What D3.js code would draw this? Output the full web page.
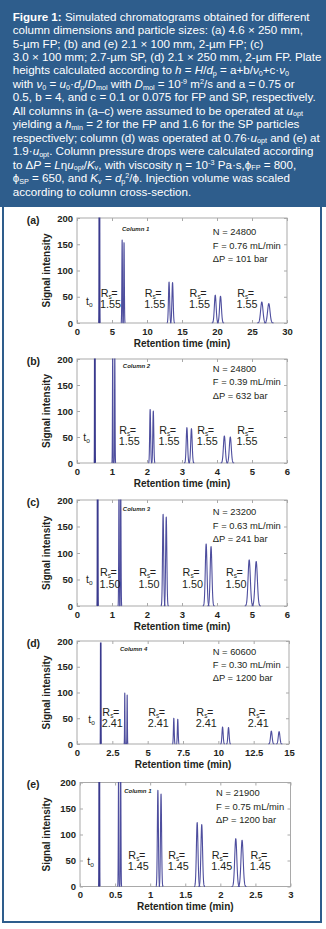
<!DOCTYPE html>
<html><head><meta charset="utf-8">
<script src="https://cdn.jsdelivr.net/npm/d3@7"></script>
<style>html,body{margin:0;padding:0;background:#fff;} svg{display:block;}</style>
</head><body>
<svg id="chart" width="326" height="929"></svg>
<script>
// ---------------- DATA ----------------
const panelLabels = ["(a)", "(b)", "(c)", "(d)", "(e)"];
const columnNames = ["Column 1", "Column 2", "Column 3", "Column 4", "Column 1"];
const plateCounts = ["24800", "24800", "23200", "60600", "21900"];
const flowRates = ["0.76", "0.39", "0.63", "0.30", "0.75"];
const pressureDrops = ["101", "632", "241", "1200", "1200"];
const resolutionLabels = ["1.55", "1.55", "1.50", "2.41", "1.45"];
const timeMax = [30, 6, 6, 15, 3];
const signalMax = 200;
const signalTicks = [0, 50, 100, 150, 200];
const timeTicks = [
  [0, 5, 10, 15, 20, 25, 30],
  [0, 1, 2, 3, 4, 5, 6],
  [0, 1, 2, 3, 4, 5, 6],
  [0, 2.5, 5, 7.5, 10, 12.5, 15],
  [0, 0.5, 1, 1.5, 2, 2.5, 3]
];
// dead-time (t0) marker peaks
const deadTimes = [3.2, 0.51, 0.59, 1.68, 0.275];
const deadHeights = [400, 400, 400, 197, 400];
const deadWidths = [0.02, 0.0033, 0.0039, 0.0068, 0.0019];
// analyte peaks: retention time (min), height, standard deviation (min)
const peakTimes = [
  [6.45, 6.72, 13.15, 13.65, 19.75, 20.5, 26.4, 27.4],
  [1.02, 1.08, 2.09, 2.18, 3.14, 3.27, 4.21, 4.38],
  [1.2, 1.25, 2.46, 2.55, 3.69, 3.83, 4.92, 5.12],
  [3.38, 3.55, 6.85, 7.13, 10.3, 10.72, 13.75, 14.3],
  [0.55, 0.58, 1.11, 1.155, 1.67, 1.735, 2.22, 2.31]
];
const peakHeights = [
  [158, 153, 78, 77, 53, 51, 40, 37],
  [215, 210, 103, 100, 68, 66, 52, 50],
  [230, 225, 173, 168, 117, 112, 87, 84],
  [99, 95, 50, 48, 33, 32, 25, 24],
  [230, 225, 185, 178, 123, 119, 92, 89]
];
const peakWidths = [
  [0.042, 0.043, 0.084, 0.087, 0.126, 0.13, 0.168, 0.174],
  [0.0065, 0.0069, 0.0133, 0.0139, 0.02, 0.0208, 0.0268, 0.0279],
  [0.0079, 0.0082, 0.0162, 0.0168, 0.0243, 0.0252, 0.0324, 0.0337],
  [0.0137, 0.0144, 0.0278, 0.029, 0.0419, 0.0436, 0.0559, 0.0581],
  [0.0037, 0.0039, 0.0075, 0.0078, 0.0113, 0.0117, 0.015, 0.0156]
];

// ---------------- LAYOUT ----------------
const plotBoxes = [
  {x0: 77, x1: 287, y0: 218, y1: 323},
  {x0: 77, x1: 287, y0: 359, y1: 463},
  {x0: 77, x1: 287, y0: 500, y1: 606},
  {x0: 77, x1: 289, y0: 641, y1: 744},
  {x0: 80, x1: 290.5, y0: 782.5, y1: 886.5}
];
// annotation anchors in data units
const rsLabelTimes = [[3.3, 9.6, 16.0, 22.8], [1.19, 2.33, 3.42, 4.56], [0.64, 1.76, 3.0, 4.24], [1.75, 5.0, 8.4, 12.08], [0.68, 1.25, 1.87, 2.42]];
const rsLabelLevels = [49.5, 56, 56, 54.4, 53.8];
const t0LabelTimes = [1.29, 0.18, 0.26, 0.8, 0.104];
const t0LabelLevels = [34, 42, 44, 40, 42];
const columnLabelTimes = [6.43, 1.31, 1.31, 3.04, 0.63];
const columnLabelLevels = [175, 183, 180, 180.6, 180];
const infoTimes = [19.4, 3.88, 3.88, 9.6, 1.94];
const infoLevels = [167, 175, 171, 173.6, 173.3];

const captionLines = [
  [["b", "Figure 1:"], ["", " Simulated chromatograms obtained for different"]],
  [["", "column dimensions and particle sizes: (a) 4.6 \u00d7 250 mm,"]],
  [["", "5-\u00b5m FP; (b) and (e) 2.1 \u00d7 100 mm, 2-\u00b5m FP; (c)"]],
  [["", "3.0 \u00d7 100 mm; 2.7-\u00b5m SP, (d) 2.1 \u00d7 250 mm, 2-\u00b5m FP. Plate"]],
  [["", "heights calculated according to "], ["i", "h"], ["", " = "], ["i", "H"], ["", "/"], ["i", "d"], ["_", "p"], ["", " = a+b/"], ["i", "\u03bd"], ["_", "0"], ["", "+c\u00b7"], ["i", "\u03bd"], ["_", "0"]],
  [["", "with "], ["i", "\u03bd"], ["_", "0"], ["", " = "], ["i", "u"], ["_", "0"], ["", "\u00b7"], ["i", "d"], ["_", "p"], ["", "/"], ["i", "D"], ["_", "mol"], ["", " with "], ["i", "D"], ["_", "mol"], ["", " = 10"], ["^", "-9"], ["", " m"], ["^", "2"], ["", "/s and a = 0.75 or"]],
  [["", "0.5, b = 4, and c = 0.1 or 0.075 for FP and SP, respectively."]],
  [["", "All columns in (a\u2013c) were assumed to be operated at "], ["i", "u"], ["_", "opt"]],
  [["", "yielding a "], ["i", "h"], ["_", "min"], ["", " = 2 for the FP and 1.6 for the SP particles"]],
  [["", "respectively; column (d) was operated at 0.76\u00b7"], ["i", "u"], ["_", "opt"], ["", " and (e) at"]],
  [["", "1.9\u00b7"], ["i", "u"], ["_", "opt"], ["", ". Column pressure drops were calculated according"]],
  [["", "to \u0394"], ["i", "P"], ["", " = "], ["i", "L"], ["", "\u03b7"], ["i", "u"], ["_", "opt"], ["", "/"], ["i", "K"], ["_", "v"], ["", ", with viscosity \u03b7 = 10"], ["^", "-3"], ["", " Pa\u00b7s,\u03d5"], ["_", "FP"], ["", " = 800,"]],
  [["", "\u03d5"], ["_", "SP"], ["", " = 650, and "], ["i", "K"], ["_", "v"], ["", " = "], ["i", "d"], ["_", "p"], ["^", "2"], ["", "/\u03d5. Injection volume was scaled"]],
  [["", "according to column cross-section."]]
];

// ---------------- DRAW ----------------
const BLUE = "#2e5d8c";
const FONT = "'Liberation Sans', Arial, sans-serif";
const INK = "#231f20";
const PEAK = "#4e4e9e";
const FRAME = "#a9a9a9";

const svg = d3.select("#chart");
svg.append("rect").attr("x", 0).attr("y", 0).attr("width", 326).attr("height", 929).attr("fill", "#fff");
svg.append("rect").attr("x", 0).attr("y", 0).attr("width", 326).attr("height", 207).attr("fill", BLUE);
svg.append("path").attr("d", "M3,206 V922 H321 V206").attr("fill", "none").attr("stroke", BLUE).attr("stroke-width", 2);

// caption
const cap = svg.append("g").attr("font-family", FONT).attr("font-size", 11.6).attr("fill", "#fff");
captionLines.forEach((segs, li) => {
  const t = cap.append("text").attr("x", 12.7).attr("y", 20.6 + li * 13.46);
  let shift = 0;
  segs.forEach(([st, txt]) => {
    let target = 0;
    const sp = t.append("tspan").text(txt);
    if (st === "b") sp.attr("font-weight", "bold");
    if (st === "i") sp.attr("font-style", "italic");
    if (st === "_") { target = 1.6; sp.attr("font-size", 7.2); }
    if (st === "^") { target = -3.9; sp.attr("font-size", 7.2); }
    if (target !== shift) sp.attr("dy", target - shift);
    shift = target;
  });
});

plotBoxes.forEach((B, i) => {
  const x = d3.scaleLinear().domain([0, timeMax[i]]).range([B.x0, B.x1]);
  const y = d3.scaleLinear().domain([0, signalMax]).range([B.y1, B.y0]);
  const g = svg.append("g").attr("font-family", FONT);

  const cid = "clip" + i;
  svg.append("clipPath").attr("id", cid).append("rect")
    .attr("x", B.x0).attr("y", B.y0 - 0.5).attr("width", B.x1 - B.x0).attr("height", B.y1 - B.y0 + 1);

  // frame
  g.append("rect").attr("x", B.x0).attr("y", B.y0).attr("width", B.x1 - B.x0).attr("height", B.y1 - B.y0)
    .attr("fill", "#fff").attr("stroke", FRAME).attr("stroke-width", 1);

  const style = (sel) => {
    sel.select(".domain").remove();
    sel.selectAll(".tick line").attr("stroke", FRAME);
    sel.selectAll(".tick text").attr("fill", INK).attr("font-family", FONT).attr("font-weight", "bold").attr("font-size", 9.5);
  };
  g.append("g").attr("transform", `translate(0,${B.y1})`)
    .call(d3.axisBottom(x).tickValues(timeTicks[i]).tickSize(-3).tickPadding(5).tickFormat(d => String(d)))
    .call(style);
  g.append("g").attr("transform", `translate(0,${B.y0})`)
    .call(d3.axisTop(x).tickValues(timeTicks[i]).tickSize(-3).tickFormat(""))
    .call(style);
  g.append("g").attr("transform", `translate(${B.x0},0)`)
    .call(d3.axisLeft(y).tickValues(signalTicks).tickSize(-3).tickPadding(4))
    .call(style);
  g.append("g").attr("transform", `translate(${B.x1},0)`)
    .call(d3.axisRight(y).tickValues(signalTicks).tickSize(-3).tickFormat(""))
    .call(style);

  // peaks
  const line = d3.line().x(d => x(d[0])).y(d => y(d[1]));
  const peakPts = (mu, h, s) => d3.range(-4, 4.0001, 0.1).map(k => [mu + k * s, h * Math.exp(-0.5 * k * k)]);
  const pg = g.append("g").attr("clip-path", `url(#${cid})`);
  peakTimes[i].forEach((mu, j) => {
    pg.append("path").attr("d", line(peakPts(mu, peakHeights[i][j], peakWidths[i][j])))
      .attr("fill", "none").attr("stroke", PEAK).attr("stroke-width", 1.1).attr("stroke-linejoin", "round");
  });
  pg.append("path").attr("d", line(peakPts(deadTimes[i], deadHeights[i], deadWidths[i])))
    .attr("fill", "none").attr("stroke", "#3a3a8e").attr("stroke-width", 1.6);

  // axis titles & panel label
  g.append("text").attr("transform", `translate(49.5,${(B.y0 + B.y1) / 2}) rotate(-90)`)
    .attr("text-anchor", "middle").attr("font-weight", "bold").attr("font-size", 10).attr("fill", INK)
    .text("Signal intensity");
  g.append("text").attr("x", (B.x0 + B.x1) / 2).attr("y", B.y1 + 23.5)
    .attr("text-anchor", "middle").attr("font-weight", "bold").attr("font-size", 10).attr("fill", INK)
    .text("Retention time (min)");
  g.append("text").attr("x", 26.7).attr("y", B.y0 + 5.5)
    .attr("font-weight", "bold").attr("font-size", 10.5).attr("fill", INK).text(panelLabels[i]);

  // column label
  g.append("text").attr("x", x(columnLabelTimes[i])).attr("y", y(columnLabelLevels[i]))
    .attr("font-weight", "bold").attr("font-style", "italic").attr("font-size", 6).attr("fill", INK)
    .text(columnNames[i]);

  // info
  const info = ["N = " + plateCounts[i], "F = " + flowRates[i] + " mL/min", "\u0394P = " + pressureDrops[i] + " bar"];
  info.forEach((s, k) => {
    g.append("text").attr("x", x(infoTimes[i])).attr("y", y(infoLevels[i]) + k * 13.3)
      .attr("font-size", 9.4).attr("fill", INK).text(s);
  });

  // Rs labels
  rsLabelTimes[i].forEach(t => {
    const tx = g.append("text").attr("x", x(t) + 0.6).attr("y", y(rsLabelLevels[i]))
      .attr("font-size", 10.8).attr("fill", INK);
    tx.append("tspan").text("R");
    tx.append("tspan").attr("font-size", 6.5).attr("dy", 2).text("s");
    tx.append("tspan").attr("dy", -2).attr("dx", -0.5).text("=");
    g.append("text").attr("x", x(t)).attr("y", y(rsLabelLevels[i]) + 11.4)
      .attr("font-size", 10.8).attr("fill", INK).text(resolutionLabels[i]);
  });

  // t0 label
  const t0 = g.append("text").attr("x", x(t0LabelTimes[i])).attr("y", y(t0LabelLevels[i]))
    .attr("font-size", 10.5).attr("fill", INK);
  t0.append("tspan").text("t");
  t0.append("tspan").attr("font-size", 6.5).attr("dy", 2).text("o");
});
</script>
</body></html>
